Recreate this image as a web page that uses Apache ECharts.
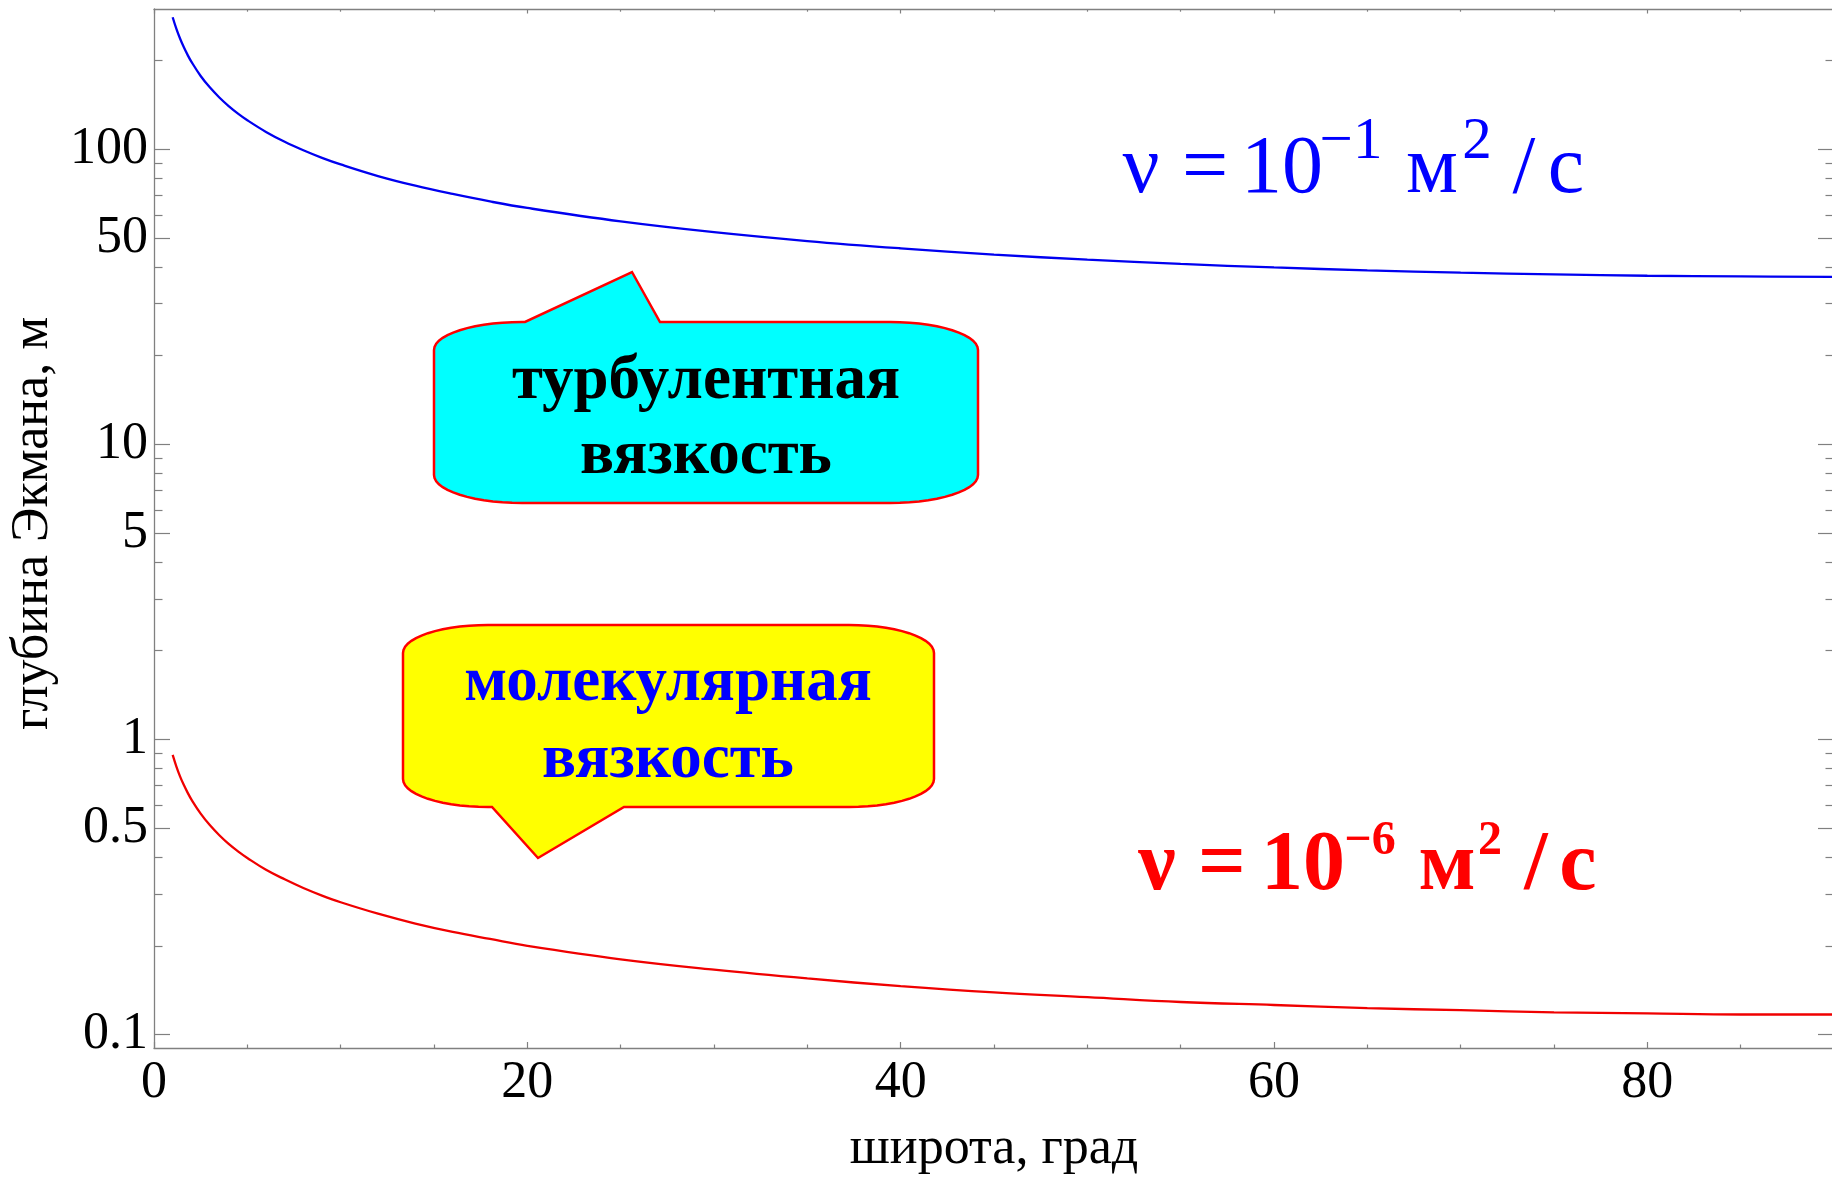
<!DOCTYPE html>
<html>
<head>
<meta charset="utf-8">
<title>Глубина Экмана</title>
<script src="https://cdn.jsdelivr.net/npm/echarts@6/dist/echarts.min.js"></script>
<style>
  html, body { margin: 0; padding: 0; background: #ffffff; }
  #chart { width: 1832px; height: 1177px; }
</style>
</head>
<body>
<div id="chart"></div>
<script>
// Latitude, degrees
const latitude = [1, 1.2, 1.4, 1.6, 1.8, 2, 2.5, 3, 3.5, 4, 4.5, 5, 6, 7, 8, 9, 10, 12, 14, 16, 18, 20,
  25, 30, 35, 40, 45, 50, 55, 60, 65, 70, 75, 80, 85, 90];
// Ekman depth, m, turbulent viscosity nu = 1e-1 m^2/s
const depthTurbulent = [280.4, 256.0, 237.0, 221.7, 209.0, 198.3, 177.3, 161.9, 149.9, 140.2, 132.2, 125.5,
  114.6, 106.1, 99.3, 93.6, 88.9, 81.2, 75.3, 70.6, 66.6, 63.3, 57.0, 52.4, 48.9, 46.2, 44.0, 42.3,
  40.9, 39.8, 38.9, 38.2, 37.7, 37.3, 37.1, 37.0];
// Ekman depth, m, molecular viscosity nu = 1e-6 m^2/s
const depthMolecular = [0.887, 0.810, 0.749, 0.701, 0.661, 0.627, 0.561, 0.512, 0.474, 0.443, 0.418, 0.397,
  0.362, 0.336, 0.314, 0.296, 0.281, 0.257, 0.238, 0.223, 0.211, 0.200, 0.180, 0.166, 0.155, 0.146,
  0.139, 0.134, 0.129, 0.126, 0.123, 0.121, 0.119, 0.118, 0.117, 0.117];

// Tick marks
const xMajorTicks = [0, 20, 40, 60, 80];
const xMinorTicks = [5, 10, 15, 25, 30, 35, 45, 50, 55, 65, 70, 75, 85];
const yMajorTicks = [0.1, 0.5, 1, 5, 10, 50, 100];
const yMinorTicks = [0.2, 0.3, 0.4, 0.6, 0.7, 0.8, 0.9, 2, 3, 4, 6, 7, 8, 9, 20, 30, 40, 60, 70, 80, 90, 200];
const xRange = [0, 90];
const yRange = [0.0901, 299];

const serif = '"Liberation Serif", "Times New Roman", serif';
const frameColor = '#808080';
const lg = v => Math.log10(v);

function axisCommon(extra) {
  return Object.assign({
    type: 'value',
    splitLine: { show: false },
    axisLabel: { show: false },
    nameMoveOverlap: false
  }, extra);
}

function frameLine(show) {
  return { show: show, onZero: false, lineStyle: { color: frameColor, width: 1.3 } };
}

function xAxisPair(position, majorLen, minorLen, withLabels) {
  const major = axisCommon({
    position: position,
    min: xRange[0], max: xRange[1],
    axisLine: frameLine(true),
    axisTick: { show: true, inside: true, length: majorLen, customValues: xMajorTicks,
      lineStyle: { color: frameColor, width: 1.2 } }
  });
  if (withLabels) {
    major.axisLabel = { show: true, customValues: xMajorTicks, margin: 9, color: '#000',
      fontFamily: serif, fontSize: 52, lineHeight: 52 };
    major.name = 'широта, град';
    major.nameLocation = 'middle';
    major.nameGap = 75;
    major.nameTextStyle = { color: '#000', fontFamily: serif, fontSize: 52, lineHeight: 52 };
  }
  const minor = axisCommon({
    position: position,
    min: xRange[0], max: xRange[1],
    axisLine: frameLine(false),
    axisTick: { show: true, inside: true, length: minorLen, customValues: xMinorTicks,
      lineStyle: { color: frameColor, width: 1.2 } }
  });
  return [major, minor];
}

function yAxisPair(position, withLabels) {
  const major = axisCommon({
    position: position,
    min: lg(yRange[0]), max: lg(yRange[1]),
    axisLine: frameLine(true),
    axisTick: { show: true, inside: true, length: 16, customValues: yMajorTicks.map(lg),
      lineStyle: { color: frameColor, width: 1.2 } }
  });
  if (withLabels) {
    major.axisLabel = {
      show: true, customValues: yMajorTicks.map(lg), margin: 6, color: '#000',
      fontFamily: serif, fontSize: 52, lineHeight: 52,
      formatter: v => {
        const t = yMajorTicks.find(k => Math.abs(lg(k) - v) < 1e-6);
        return t === undefined ? '' : String(t);
      }
    };
    major.name = 'глубина Экмана, м';
    major.nameLocation = 'middle';
    major.nameGap = 95;
    major.nameRotate = 90;
    major.nameTextStyle = { color: '#000', fontFamily: serif, fontSize: 52, lineHeight: 52,
      padding: [0, 0, 0, 10] };
  }
  const minor = axisCommon({
    position: position,
    min: lg(yRange[0]), max: lg(yRange[1]),
    axisLine: frameLine(false),
    axisTick: { show: true, inside: true, length: 8.5, customValues: yMinorTicks.map(lg),
      lineStyle: { color: frameColor, width: 1.2 } }
  });
  return [major, minor];
}

// Speech-bubble outline: rectangle with elliptical corners and a wedge on one side
function calloutPoints(b) {
  const pts = [];
  const arc = (cx, cy, a0, a1) => {
    const n = 14;
    for (let i = 0; i <= n; i++) {
      const a = a0 + (a1 - a0) * i / n;
      pts.push([cx + b.rx * Math.cos(a), cy + b.ry * Math.sin(a)]);
    }
  };
  const P = Math.PI;
  pts.push([b.L + b.rx, b.T]);
  if (b.side === 'top') pts.push([b.t0, b.T], [b.tipX, b.tipY], [b.t1, b.T]);
  arc(b.R - b.rx, b.T + b.ry, -P / 2, 0);
  arc(b.R - b.rx, b.B - b.ry, 0, P / 2);
  if (b.side === 'bottom') pts.push([b.t1, b.B], [b.tipX, b.tipY], [b.t0, b.B]);
  arc(b.L + b.rx, b.B - b.ry, P / 2, P);
  arc(b.L + b.rx, b.T + b.ry, P, 1.5 * P);
  return pts;
}

const cyanBubble = { L: 434, T: 322, R: 978, B: 503, rx: 88, ry: 28,
  side: 'top', t0: 525, t1: 660, tipX: 632, tipY: 272 };
const yellowBubble = { L: 403, T: 625, R: 934, B: 807, rx: 85, ry: 28,
  side: 'bottom', t0: 492, t1: 624, tipX: 538, tipY: 858 };

function txt(text, x, y, size, color, weight) {
  return {
    type: 'text', x: x, y: y, z: 20,
    style: {
      text: text, fill: color, align: 'center', verticalAlign: 'middle',
      font: (weight || 'normal') + ' ' + size + 'px ' + serif
    }
  };
}

const chart = echarts.init(document.getElementById('chart'), null, { renderer: 'canvas' });

const option = {
  animation: false,
  backgroundColor: '#ffffff',
  grid: { left: 154, top: 9, width: 1680, height: 1039, outerBoundsMode: 'none', containLabel: false },
  xAxis: [].concat(xAxisPair('bottom', 6, 3.5, true), xAxisPair('top', 4.5, 2.7, false)),
  yAxis: [].concat(yAxisPair('left', true), yAxisPair('right', false)),
  series: [
    {
      type: 'line', xAxisIndex: 0, yAxisIndex: 0,
      data: latitude.map((x, i) => [x, lg(depthTurbulent[i])]),
      showSymbol: false, smooth: 0.4,
      lineStyle: { color: '#0000f0', width: 2.3 }
    },
    {
      type: 'line', xAxisIndex: 0, yAxisIndex: 0,
      data: latitude.map((x, i) => [x, lg(depthMolecular[i])]),
      showSymbol: false, smooth: 0.4,
      lineStyle: { color: '#f00000', width: 2.3 }
    }
  ],
  graphic: [
    { type: 'polygon', z: 10, shape: { points: calloutPoints(cyanBubble) },
      style: { fill: '#00ffff', stroke: '#ff0000', lineWidth: 2.5 } },
    { type: 'polygon', z: 10, shape: { points: calloutPoints(yellowBubble) },
      style: { fill: '#ffff00', stroke: '#ff0000', lineWidth: 2.5 } },
    txt('турбулентная', 706, 382, 63, '#000000', 'bold'),
    txt('вязкость', 706, 457, 63, '#000000', 'bold'),
    txt('молекулярная', 668, 684, 63, '#0000ff', 'bold'),
    txt('вязкость', 668, 761, 63, '#0000ff', 'bold'),

    // nu = 10^-1 m^2/s
    txt('ν', 1141, 170, 82, '#0000ff'),
    txt('=', 1205, 170, 82, '#0000ff'),
    txt('10', 1282, 170, 82, '#0000ff'),
    txt('−1', 1351, 142, 59, '#0000ff'),
    txt('м', 1432, 170, 82, '#0000ff'),
    txt('2', 1477, 142, 59, '#0000ff'),
    txt('/', 1524, 170, 82, '#0000ff'),
    txt('с', 1566, 170, 82, '#0000ff'),

    // nu = 10^-6 m^2/s
    txt('ν', 1157, 867, 84, '#ff0000', 'bold'),
    txt('=', 1222, 867, 84, '#ff0000', 'bold'),
    txt('10', 1303, 867, 84, '#ff0000', 'bold'),
    txt('−6', 1370, 842, 48, '#ff0000', 'bold'),
    txt('м', 1447, 867, 84, '#ff0000', 'bold'),
    txt('2', 1490, 842, 48, '#ff0000', 'bold'),
    txt('/', 1536, 867, 84, '#ff0000', 'bold'),
    txt('с', 1578, 867, 84, '#ff0000', 'bold')
  ]
};

chart.setOption(option);
</script>
</body>
</html>
